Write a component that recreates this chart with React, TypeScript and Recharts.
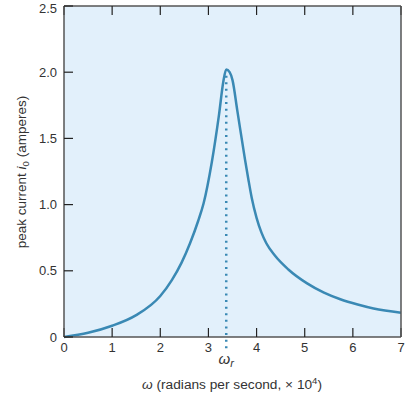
import React from 'react';
import {
  LineChart,
  Line,
  XAxis,
  YAxis,
  CartesianGrid,
  ReferenceLine,
} from 'recharts';

// angular frequency (x 10^4 rad/s)
const omega = [
  0, 0.5, 1, 1.5, 2, 2.24, 2.44, 2.62, 2.79, 2.9, 3.07, 3.22, 3.31, 3.37,
  3.44, 3.5, 3.6, 3.76, 3.83, 3.9, 4.0, 4.1, 4.2, 4.38, 4.66, 5.05, 5.4,
  5.74, 6.1, 6.43, 7,
];
// peak current (amperes)
const current = [
  0, 0.032, 0.085, 0.165, 0.31, 0.43, 0.56, 0.71, 0.88, 1.01, 1.32, 1.68,
  1.93, 2.02, 2.0, 1.94, 1.71, 1.34, 1.19, 1.05, 0.9, 0.79, 0.71, 0.615,
  0.51, 0.405, 0.335, 0.285, 0.245, 0.215, 0.184,
];

const xTicks = [0, 1, 2, 3, 4, 5, 6, 7];
const yTicks = [0, 0.5, 1, 1.5, 2, 2.5];
const omegaR = 3.37;
const peak = 2.02;

const data = omega.map((w, i) => ({ w, i0: current[i] }));

const font = '"Liberation Sans", Arial, Helvetica, sans-serif';
const frame = '#555';
const curve = '#3a89b4';

const tickStyle = { fill: '#333', fontSize: 13, fontFamily: font };

const OmegaRLabel = (props: any) => {
  const x = props.viewBox ? props.viewBox.x : 0;
  return (
    <text
      x={x}
      y={364}
      textAnchor='middle'
      fontFamily={font}
      fontSize={15}
      fill='#333'
      fontStyle='italic'
    >
      ω<tspan fontSize={11} dy={3}>r</tspan>
    </text>
  );
};

export default function App() {
  return (
    <div style={{ position: 'absolute', left: 0, top: 0 }}>
      <LineChart
        width={414}
        height={394}
        data={data}
        margin={{ top: 5, right: 12, bottom: 27, left: 0 }}
      >
        <CartesianGrid
          fill='#e2f0fb'
          stroke='none'
          horizontal={false}
          vertical={false}
        />
        <XAxis
          dataKey='w'
          type='number'
          domain={[0, 7]}
          ticks={xTicks}
          height={30}
          tickSize={-9}
          tickMargin={15}
          tick={tickStyle}
          axisLine={{ stroke: frame, strokeWidth: 1.5 }}
          tickLine={{ stroke: '#222', strokeWidth: 1.2 }}
        />
        <XAxis
          xAxisId='top'
          orientation='top'
          dataKey='w'
          type='number'
          domain={[0, 7]}
          ticks={xTicks}
          height={1}
          tickSize={-9}
          tickFormatter={() => ''}
          axisLine={{ stroke: frame, strokeWidth: 1.5 }}
          tickLine={{ stroke: '#222', strokeWidth: 1.2 }}
        />
        <YAxis
          type='number'
          domain={[0, 2.5]}
          ticks={yTicks}
          width={64}
          tickSize={-9}
          tickMargin={16}
          tick={tickStyle}
          tickFormatter={(v: number) => (v === 0 ? '0' : v.toFixed(1))}
          axisLine={{ stroke: frame, strokeWidth: 1.5 }}
          tickLine={{ stroke: '#222', strokeWidth: 1.2 }}
        />
        <YAxis
          yAxisId='right'
          orientation='right'
          type='number'
          domain={[0, 2.5]}
          ticks={yTicks}
          width={1}
          tickSize={-9}
          tickFormatter={() => ''}
          axisLine={{ stroke: frame, strokeWidth: 1.5 }}
          tickLine={{ stroke: '#222', strokeWidth: 1.2 }}
        />
        <ReferenceLine
          segment={[
            { x: omegaR, y: -0.085 },
            { x: omegaR, y: peak },
          ]}
          ifOverflow='visible'
          stroke={curve}
          strokeWidth={2.5}
          strokeDasharray='2 4.6'
          label={<OmegaRLabel />}
        />
        <Line
          type='monotone'
          dataKey='i0'
          stroke={curve}
          strokeWidth={2.5}
          dot={false}
          isAnimationActive={false}
        />
        <text
          x={232}
          y={389}
          textAnchor='middle'
          fontFamily={font}
          fontSize={13.7}
          fill='#333'
        >
          <tspan fontStyle='italic'>ω</tspan> (radians per second, × 10
          <tspan fontSize={9.5} dy={-5}>4</tspan>
          <tspan dy={5}>)</tspan>
        </text>
        <text
          transform='translate(26,172) rotate(-90)'
          textAnchor='middle'
          fontFamily={font}
          fontSize={13.5}
          fill='#333'
        >
          peak current <tspan fontStyle='italic'>i</tspan>
          <tspan fontSize={9.5} dy={3}>0</tspan>
          <tspan dy={-3}> (amperes)</tspan>
        </text>
      </LineChart>
    </div>
  );
}
